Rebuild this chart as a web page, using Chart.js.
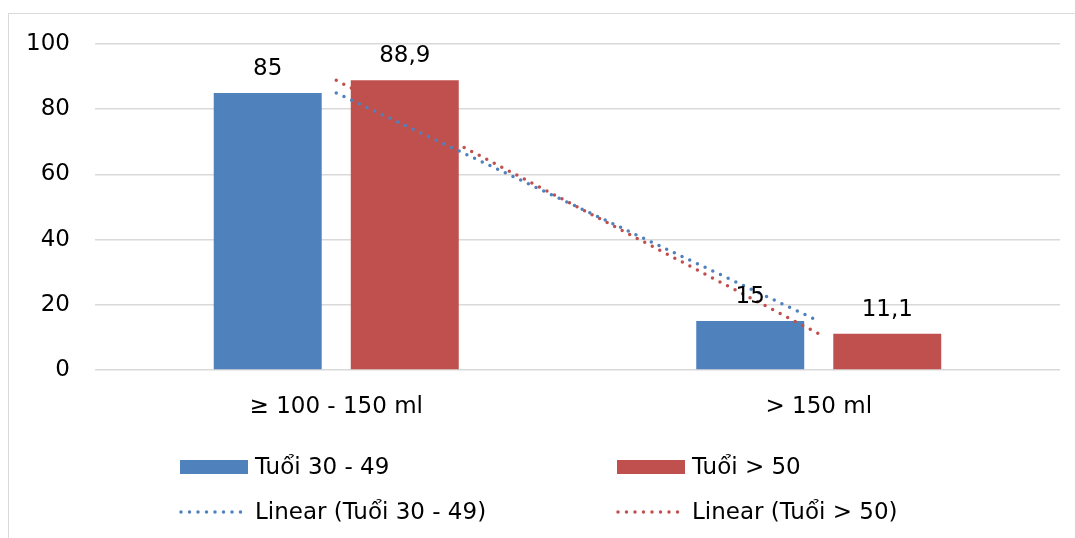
<!DOCTYPE html>
<html>
<head>
<meta charset="utf-8">
<script src="https://cdn.jsdelivr.net/npm/chart.js@4/dist/chart.umd.min.js"></script>
<style>
  html, body { margin: 0; padding: 0; background: #fff; overflow: hidden; }
  #frame { position: absolute; left: 8px; top: 13px; width: 1100px; height: 600px; border: 1px solid #d9d9d9; }
  #wrap { position: absolute; left: 0; top: 0; width: 1075px; height: 538px; }
</style>
</head>
<body>
<div id="frame"></div>
<div id="wrap"><canvas id="c"></canvas></div>
<script>
const categories = ['\u2265 100 - 150 ml', '> 150 ml'];
const seriesNames = ['Tuổi 30 - 49', 'Tuổi > 50'];
const young = [85, 15];
const old = [88.9, 11.1];
const yTicks = [0, 20, 40, 60, 80, 100];

const BLUE = '#4F81BD';
const RED = '#C0504D';
const FONT = "'DejaVu Sans', sans-serif";

// least squares linear trend over category index
function linearTrend(values) {
    const n = values.length;
    let sx = 0, sy = 0, sxy = 0, sxx = 0;
    values.forEach((v, i) => { sx += i; sy += v; sxy += i * v; sxx += i * i; });
    const b = (n * sxy - sx * sy) / (n * sxx - sx * sx);
    const a = (sy - b * sx) / n;
    return values.map((v, i) => a + b * i);
}

/* value labels above the bars */
const barLabels = {
    id: 'barLabels',
    afterDatasetsDraw(chart) {
        const ctx = chart.ctx;
        ctx.save();
        ctx.font = '23px ' + FONT;
        ctx.fillStyle = '#000';
        ctx.textAlign = 'center';
        ctx.textBaseline = 'alphabetic';
        chart.data.datasets.forEach((ds, di) => {
            if (ds.type !== 'bar') return;
            chart.getDatasetMeta(di).data.forEach((bar, i) => {
                ctx.fillText(String(ds.data[i]).replace('.', ','), bar.x, bar.y - 18);
            });
        });
        ctx.restore();
    }
};

/* legend in two columns, two rows, like the office chart */
const gridLegend = {
    id: 'gridLegend',
    afterDraw(chart) {
        const ctx = chart.ctx;
        const cols = [180, 617];
        const rows = [467, 512];
        ctx.save();
        ctx.font = '23px ' + FONT;
        ctx.textBaseline = 'middle';
        ctx.textAlign = 'left';
        chart.data.datasets.forEach((ds, di) => {
            const x = cols[di % 2];
            const y = rows[Math.floor(di / 2)];
            if (ds.type === 'bar') {
                ctx.fillStyle = ds.backgroundColor;
                ctx.fillRect(x, y - 7, 68, 14);
            } else {
                ctx.strokeStyle = ds.borderColor;
                ctx.lineWidth = 3.5;
                ctx.lineCap = 'round';
                ctx.setLineDash([0, 8.5]);
                ctx.beginPath();
                ctx.moveTo(x + 1, y);
                ctx.lineTo(x + 68, y);
                ctx.stroke();
                ctx.setLineDash([]);
            }
            ctx.fillStyle = '#000';
            ctx.fillText(ds.label, x + 75, y + 1);
        });
        ctx.restore();
    }
};

new Chart(document.getElementById('c'), {
    data: {
        labels: categories,
        datasets: [
            {
                type: 'bar',
                label: seriesNames[0],
                data: young,
                backgroundColor: BLUE,
                order: 2,
            },
            {
                type: 'bar',
                label: seriesNames[1],
                data: old,
                backgroundColor: RED,
                order: 2,
            },
            {
                type: 'line',
                label: 'Linear (' + seriesNames[0] + ')',
                data: linearTrend(young),
                borderColor: BLUE,
                order: 1,
            },
            {
                type: 'line',
                label: 'Linear (' + seriesNames[1] + ')',
                data: linearTrend(old),
                borderColor: RED,
                order: 1,
            },
        ],
    },
    options: {
        responsive: true,
        maintainAspectRatio: false,
        animation: false,
        layout: {
            padding: { left: 0, right: 15, top: 44, bottom: 0 },
        },
        datasets: {
            bar: {
                categoryPercentage: 0.568,
                barPercentage: 0.788,
            },
            line: {
                borderWidth: 3.5,
                borderDash: [0, 8.5],
                borderCapStyle: 'round',
                pointRadius: 0,
                fill: false,
            },
        },
        scales: {
            x: {
                afterFit: (scale) => { scale.height = 168; },
                border: { display: false },
                grid: { display: false },
                ticks: {
                    color: '#000',
                    padding: 15,
                    maxRotation: 0,
                    font: { family: FONT, size: 23 },
                },
            },
            y: {
                min: 0,
                max: 100,
                afterFit: (scale) => { scale.width = 95; },
                afterBuildTicks: (scale) => {
                    scale.ticks = yTicks.map((v) => ({ value: v }));
                },
                border: { display: false },
                grid: {
                    color: '#d9d9d9',
                    lineWidth: 1.5,
                    drawTicks: false,
                },
                ticks: {
                    color: '#000',
                    padding: 25,
                    font: { family: FONT, size: 23 },
                },
            },
        },
        plugins: {
            legend: { display: false },
            tooltip: { enabled: false },
        },
    },
    plugins: [barLabels, gridLegend],
});
</script>
</body>
</html>
